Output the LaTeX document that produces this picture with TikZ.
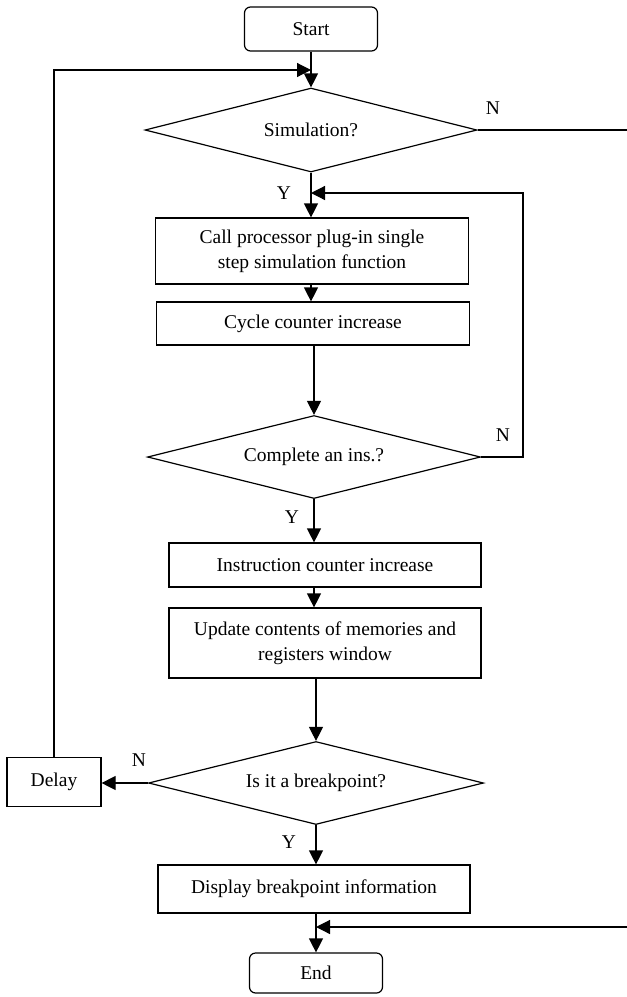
\documentclass[tikz,border=0pt]{standalone}
\usepackage{fontspec}
\setmainfont{Liberation Serif}
\usetikzlibrary{shapes.geometric,arrows.meta}
\begin{document}
\begin{tikzpicture}[x=1pt,y=-1pt,
  every node/.style={font=\fontsize{19.5}{25}\selectfont},
  proc/.style={draw,line width=1.2pt,rectangle,inner sep=0pt,align=center},
  term/.style={draw,line width=1.2pt,rectangle,rounded corners=6pt,inner sep=0pt},
  dec/.style={draw,line width=1.2pt,diamond,aspect=4,inner sep=0pt},
  lbl/.style={inner sep=0pt},
  flow/.style={line width=1.2pt,-{Triangle[length=14pt,width=14pt]}},
  plain/.style={line width=1.2pt}]
\useasboundingbox (0,0) rectangle (627,997);
\node[term,minimum width=133pt,minimum height=44pt] (start) at (311,29) {Start};
\node[dec,minimum width=332pt,minimum height=84pt] (d1) at (311,130) {Simulation?};
\node[proc,minimum width=313pt,minimum height=66pt] (b1) at (312,251) {Call processor plug-in single\\step simulation function};
\node[proc,minimum width=313pt,minimum height=43pt] (b2) at (313,323.5) {Cycle counter increase};
\node[dec,minimum width=333pt,minimum height=83pt] (d2) at (314,457) {Complete an ins.?};
\node[proc,minimum width=312pt,minimum height=44pt] (b3) at (325,565) {Instruction counter increase};
\node[proc,minimum width=312pt,minimum height=70pt] (b4) at (325,643) {Update contents of memories and\\registers window};
\node[dec,minimum width=335pt,minimum height=83pt] (d3) at (316,783) {Is it a breakpoint?};
\node[proc,minimum width=94pt,minimum height=49pt] (delay) at (54,782) {Delay};
\node[proc,minimum width=312pt,minimum height=48pt] (b5) at (314,889) {Display breakpoint information};
\node[term,minimum width=133pt,minimum height=40pt] (end) at (316,973) {End};
% labels
\node[lbl] (n1) at (493,108) {N};
\node[lbl] (y1) at (284,193) {Y};
\node[lbl] (n2) at (503,435) {N};
\node[lbl] (y2) at (292,517) {Y};
\node[lbl] (n3) at (139,760) {N};
\node[lbl] (y3) at (289,842) {Y};
% junctions
\coordinate (j1) at (start.south |- 0,70);
\coordinate (j2) at (d1.south |- 0,193);
\coordinate (j5) at (end.north |- 0,927);
\coordinate (r1) at (632,130);
\coordinate (r2) at (632,927);
\coordinate (l2) at (523,457);
\coordinate (l3) at (523,193);
% connectors
\draw[flow] (start.south) -- (d1.north);
\draw[flow] (delay.north) |- (j1);
\draw[flow] (d1.south) -- (b1.north -| d1.south);
\draw[flow] (b1.south -| d1.south) -- (b2.north -| d1.south);
\draw[flow] (b2.south -| d2.north) -- (d2.north);
\draw[flow] (d2.south) -- (b3.north -| d2.south);
\draw[flow] (b3.south -| d2.south) -- (b4.north -| d2.south);
\draw[flow] (b4.south -| d3.north) -- (d3.north);
\draw[flow] (d3.south) -- (b5.north -| d3.south);
\draw[flow] (b5.south -| end.north) -- (end.north);
\draw[flow] (d3.west) -- (d3.west -| delay.east);
\draw[flow] (d2.east) -- (l2) -- (l3) -- (j2);
\draw[flow] (d1.east) -- (r1) -- (r2) -- (j5);
\end{tikzpicture}
\end{document}
